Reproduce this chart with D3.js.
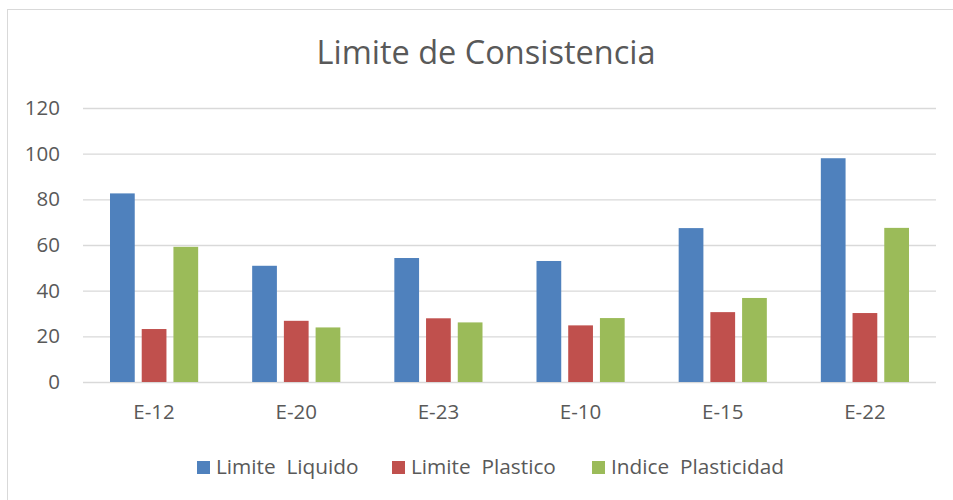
<!DOCTYPE html>
<html>
<head>
<meta charset="utf-8">
<script src="https://cdn.jsdelivr.net/npm/d3@7"></script>
<style>
  html, body { margin: 0; padding: 0; background: #fff; }
  svg { display: block; }
  text { font-family: "Open Sans", "Noto Sans", sans-serif; fill: #595959; }
</style>
</head>
<body>
<svg id="chart" width="953" height="500"></svg>
<script>
const categories = ["E-12", "E-20", "E-23", "E-10", "E-15", "E-22"];
const seriesNames = ["Limite  Liquido", "Limite  Plastico", "Indice  Plasticidad"];
const limiteLiquido = [82.6, 50.9, 54.3, 53.0, 67.4, 98.0];
const limitePlastico = [23.2, 26.8, 27.9, 24.8, 30.6, 30.2];
const indicePlasticidad = [59.2, 23.9, 26.1, 28.0, 36.8, 67.5];
const yTicks = [0, 20, 40, 60, 80, 100, 120];
const colors = ["#4F81BD", "#C0504D", "#9BBB59"];
const titleText = "Limite de Consistencia";

const seriesValues = [limiteLiquido, limitePlastico, indicePlasticidad];

const svg = d3.select("#chart");
const W = 953, H = 500;
const plot = { left: 83, right: 936, top: 108, bottom: 382 };

svg.append("rect").attr("width", W).attr("height", H).attr("fill", "#fff");
// chart border (right/bottom edges are outside the image)
svg.append("rect")
  .attr("x", 7.5).attr("y", 9.5)
  .attr("width", W + 10).attr("height", H + 10)
  .attr("fill", "none").attr("stroke", "#D9D9D9").attr("stroke-width", 1);

const x0 = d3.scaleBand().domain(categories).range([plot.left, plot.right]).padding(0);
const groupPad = 27;
const x1 = d3.scaleBand().domain(d3.range(seriesNames.length))
  .range([groupPad, x0.bandwidth() - groupPad]).paddingInner(0.22).paddingOuter(0);
const y = d3.scaleLinear().domain([0, 120]).range([plot.bottom, plot.top]);

// gridlines
const yAxis = d3.axisLeft(y).tickValues(yTicks).tickSize(-(plot.right - plot.left)).tickPadding(23);
const gy = svg.append("g").attr("transform", `translate(${plot.left},0)`).call(yAxis);
gy.select(".domain").remove();
gy.selectAll(".tick line").attr("stroke", "#D9D9D9").attr("stroke-width", 1.3);
gy.selectAll(".tick text")
  .attr("fill", "#595959").style("font-size", "20.5px")
  .style("font-family", '"Open Sans", sans-serif');

// bars
const groups = svg.append("g").selectAll("g")
  .data(categories).join("g")
  .attr("transform", d => `translate(${x0(d)},0)`);
groups.selectAll("rect")
  .data((d, i) => seriesValues.map((s, k) => ({ k, v: s[i] })))
  .join("rect")
  .attr("x", d => x1(d.k))
  .attr("width", x1.bandwidth())
  .attr("y", d => y(d.v))
  .attr("height", d => y(0) - y(d.v))
  .attr("fill", d => colors[d.k]);

// x axis labels
const xAxis = d3.axisBottom(x0).tickSize(0).tickPadding(22);
const gx = svg.append("g").attr("transform", `translate(0,${plot.bottom})`).call(xAxis);
gx.select(".domain").remove();
gx.selectAll(".tick text")
  .attr("fill", "#595959").style("font-size", "20.5px")
  .style("font-family", '"Open Sans", sans-serif');

// title
svg.append("text")
  .attr("x", 486).attr("y", 64)
  .attr("text-anchor", "middle")
  .style("font-size", "32.5px")
  .text(titleText);

// legend
const legendX = [197, 392, 592];
const lg = svg.append("g").selectAll("g").data(seriesNames).join("g")
  .attr("transform", (d, i) => `translate(${legendX[i]},0)`);
lg.append("rect").attr("x", 0).attr("y", 461).attr("width", 13).attr("height", 13)
  .attr("fill", (d, i) => colors[i]);
lg.append("text").attr("x", 19).attr("y", 474)
  .style("font-size", "20.8px").style("white-space", "pre")
  .attr("xml:space", "preserve")
  .text(d => d);
</script>
</body>
</html>
